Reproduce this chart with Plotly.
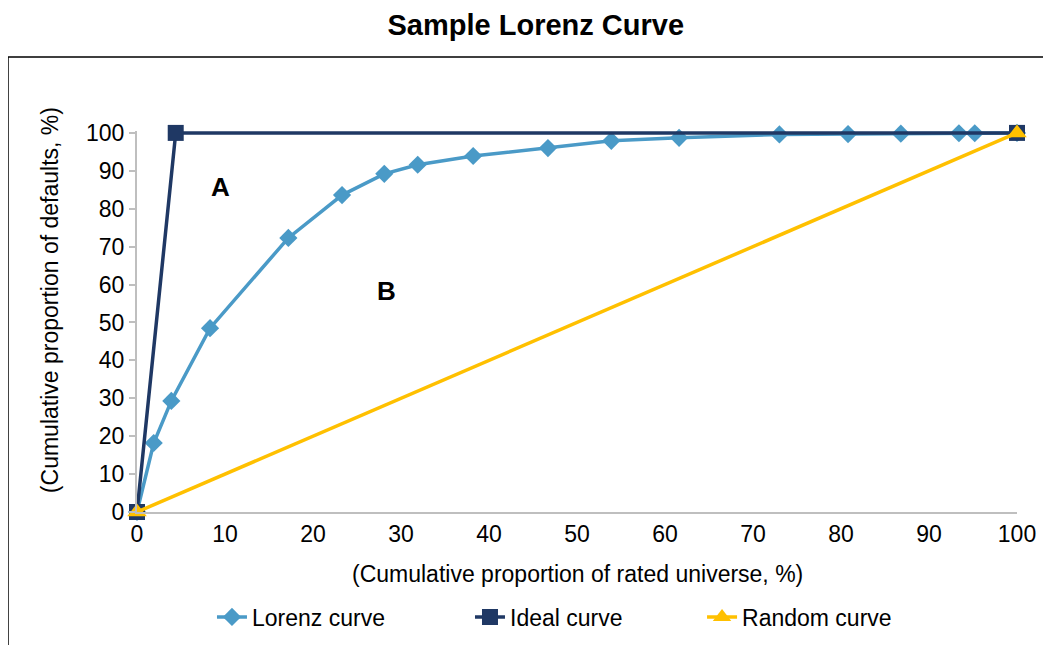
import plotly.graph_objects as go

lorenz_x = [0, 1.9, 3.9, 8.3, 17.2, 23.3, 28.1, 31.9, 38.2, 46.7, 53.9, 61.6, 73.0, 80.8, 86.8, 93.4, 95.2, 100]
lorenz_y = [0, 18.2, 29.3, 48.5, 72.3, 83.6, 89.2, 91.6, 93.9, 96.0, 97.9, 98.7, 99.6, 99.7, 99.8, 99.9, 99.9, 100]
ideal_x = [0, 4.4, 100]
ideal_y = [0, 100, 100]
random_x = [0, 100]
random_y = [0, 100]
x_ticks = [0, 10, 20, 30, 40, 50, 60, 70, 80, 90, 100]
y_ticks = [0, 10, 20, 30, 40, 50, 60, 70, 80, 90, 100]

FONT = "Liberation Sans, Arial, sans-serif"
fig = go.Figure()
fig.add_trace(go.Scatter(x=lorenz_x, y=lorenz_y, mode="lines+markers", name="Lorenz curve",
                         line=dict(color="#4A9AC7", width=3.5), legend="legend",
                         marker=dict(symbol="diamond", size=14, color="#4A9AC7"), cliponaxis=False))
fig.add_trace(go.Scatter(x=ideal_x, y=ideal_y, mode="lines+markers", name="Ideal curve",
                         line=dict(color="#1F3864", width=3.5), legend="legend2",
                         marker=dict(symbol="square", size=16, color="#1F3864"), cliponaxis=False))
fig.add_trace(go.Scatter(x=random_x, y=random_y, mode="lines+markers", name="Random curve",
                         line=dict(color="#FFC000", width=3.5), legend="legend3",
                         marker=dict(symbol="triangle-up", size=17, color="#FFC000"), cliponaxis=False))

leg = dict(orientation="h", xanchor="left", yref="container", y=0.044, yanchor="middle",
           font=dict(size=23), bgcolor="rgba(0,0,0,0)")

fig.update_layout(
    width=1043, height=637,
    margin=dict(l=129, r=34, t=123, b=133),
    paper_bgcolor="white", plot_bgcolor="white",
    font=dict(family=FONT, size=23, color="black"),
    title=dict(text="<b>Sample Lorenz Curve</b>", x=0.506, xanchor="center", y=0.973, yanchor="middle",
               font=dict(size=29, family=FONT, color="black")),
    showlegend=True,
    legend=dict(leg, x=0.0852),
    legend2=dict(leg, x=0.3784),
    legend3=dict(leg, x=0.6421),
    xaxis=dict(range=[0, 100], tickvals=x_ticks, showgrid=False, zeroline=False,
               showline=True, linecolor="#BFBFBF", linewidth=2, ticks="", ticklen=0,
               tickfont=dict(size=23)),
    yaxis=dict(range=[0, 100.5], tickvals=y_ticks, showgrid=False, zeroline=False,
               showline=True, linecolor="#BFBFBF", linewidth=2, ticks="outside", ticklen=6,
               tickcolor="#BFBFBF", tickwidth=1.5, tickfont=dict(size=23)),
)

fig.add_shape(type="rect", xref="paper", yref="paper", x0=-0.1466, x1=1.2, y0=-0.5, y1=1.194,
              line=dict(color="black", width=1.5), fillcolor="rgba(0,0,0,0)", layer="below")

fig.add_shape(type="path", xref="x", yref="y",
              path="M 0.34,100.5 Q 0.34,102.4 0.9,102.4 L 1.5,102.4 Q 1.8,102.4 1.8,104.2 "
                   "Q 1.8,102.4 2.1,102.4 L 2.7,102.4 Q 3.3,102.4 3.3,100.5",
              line=dict(color="black", width=1))

fig.add_annotation(x=0.5, y=-0.1627, xref="paper", yref="paper",
                   text="(Cumulative proportion of rated universe, %)",
                   showarrow=False, font=dict(size=23), xanchor="center", yanchor="middle")
fig.add_annotation(x=-0.0989, y=0.556, xref="paper", yref="paper",
                   text="(Cumulative proportion of defaults, %)", textangle=-90,
                   showarrow=False, font=dict(size=23), xanchor="center", yanchor="middle")
fig.add_annotation(x=14.5, y=110.8, xref="x", yref="y", text="Aggregate default rate",
                   showarrow=False, font=dict(size=23))
fig.add_annotation(x=9.5, y=85.8, xref="x", yref="y", text="<b>A</b>",
                   showarrow=False, font=dict(size=26))
fig.add_annotation(x=28.4, y=58.3, xref="x", yref="y", text="<b>B</b>",
                   showarrow=False, font=dict(size=26))

fig.write_html("out.html")
